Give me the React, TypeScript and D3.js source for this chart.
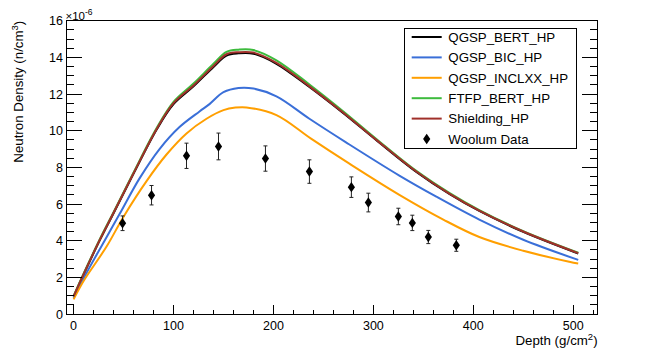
import React from "react";
import * as d3 from "d3";

// ---- data ----
const topDepth = [0, 10, 26, 40, 59, 83, 100, 120, 140, 153, 165, 180, 203, 236, 270, 303, 343, 376, 406, 450, 505];
const qgspBert = [0.95, 2.15, 4.0, 5.5, 7.55, 10.05, 11.45, 12.42, 13.48, 14.1, 14.22, 14.2, 13.65, 12.38, 10.95, 9.48, 7.75, 6.55, 5.62, 4.48, 3.3];
const shielding = [0.96, 2.17, 4.02, 5.52, 7.57, 10.08, 11.5, 12.47, 13.53, 14.17, 14.28, 14.26, 13.7, 12.42, 10.98, 9.5, 7.77, 6.57, 5.64, 4.5, 3.32];
const ftfpBert = [0.98, 2.2, 4.05, 5.56, 7.61, 10.13, 11.57, 12.57, 13.65, 14.3, 14.42, 14.4, 13.84, 12.52, 11.05, 9.55, 7.81, 6.61, 5.67, 4.52, 3.34];

const bicDepth = [0, 10, 31, 46, 66, 86, 106, 126, 136, 150, 165, 180, 203, 236, 273, 326, 363, 406, 450, 505];
const qgspBic = [0.88, 1.95, 4.0, 5.45, 7.4, 9.0, 10.2, 11.05, 11.45, 12.1, 12.33, 12.3, 11.87, 10.65, 9.35, 7.55, 6.4, 5.15, 4.05, 2.95];

const inclDepth = [0, 10, 33, 50, 73, 93, 113, 133, 150, 162, 173, 203, 238, 276, 326, 370, 406, 450, 496, 505];
const qgspInclxx = [0.8, 1.8, 3.68, 5.31, 7.25, 8.7, 9.85, 10.65, 11.12, 11.26, 11.27, 10.85, 9.55, 8.2, 6.5, 5.15, 4.2, 3.45, 2.85, 2.75];

const woolumDepth = [49, 78, 113, 145, 192, 236, 278, 295, 325, 339, 355, 383];
const woolumValue = [4.95, 6.48, 8.63, 9.14, 8.48, 7.77, 6.92, 6.08, 5.32, 4.97, 4.2, 3.75];
const woolumError = [0.4, 0.53, 0.69, 0.73, 0.69, 0.64, 0.56, 0.51, 0.45, 0.42, 0.36, 0.33];

const xMajorTicks = [0, 100, 200, 300, 400, 500];
const yMajorTicks = [0, 2, 4, 6, 8, 10, 12, 14, 16];

const seriesNames = ["QGSP_BERT_HP", "QGSP_BIC_HP", "QGSP_INCLXX_HP", "FTFP_BERT_HP", "Shielding_HP"];
const seriesColors = ["#000000", "#3a6fd8", "#ff9f00", "#3dbb3d", "#a0302a"];

const FONT = "'Liberation Sans', Arial, Helvetica, sans-serif";

export default function App() {
  const W = 664, H = 350;
  const L = 66.4, R = 597.6, T = 20.7, B = 314;
  const x = d3.scaleLinear().domain([-7.2, 524.4]).range([L, R]);
  const y = d3.scaleLinear().domain([0, 16]).range([B, T]);

  const mk = (xs: number[], ys: number[]) =>
    d3.line<number>().x((_, i) => x(xs[i])).y((v) => y(v)).curve(d3.curveCatmullRom.alpha(0.5))(ys) || "";

  const curves = [
    { d: mk(topDepth, qgspBert), c: seriesColors[0] },
    { d: mk(bicDepth, qgspBic), c: seriesColors[1] },
    { d: mk(inclDepth, qgspInclxx), c: seriesColors[2] },
    { d: mk(topDepth, ftfpBert), c: seriesColors[3] },
    { d: mk(topDepth, shielding), c: seriesColors[4] },
  ];

  const xMinor = d3.range(0, 521, 20).filter((v) => !xMajorTicks.includes(v));
  const yMinor = d3.range(0, 16.01, 0.5).filter((v) => !yMajorTicks.includes(v));

  const diamond = (cx: number, cy: number) =>
    `M${cx},${cy - 5.2}L${cx + 3.6},${cy}L${cx},${cy + 5.2}L${cx - 3.6},${cy}Z`;

  const legX = 404.5, legY = 28.5, legW = 172, legH = 119.5;
  const rowY = (i: number) => 37 + i * 20.4;

  return (
    <svg width={W} height={H} style={{ position: "absolute", left: 0, top: 0, background: "#fff" }} fontFamily={FONT}>
      <rect x={0} y={0} width={W} height={H} fill="#fff" />
      {/* curves */}
      <g fill="none" strokeWidth={2}>
        {curves.map((c, i) => (
          <path key={i} d={c.d} stroke={c.c} />
        ))}
      </g>
      {/* data points */}
      <g>
        {woolumDepth.map((dv, i) => {
          const cx = x(dv);
          const y0 = y(woolumValue[i] - woolumError[i]);
          const y1 = y(woolumValue[i] + woolumError[i]);
          return (
            <g key={i}>
              <line x1={cx} x2={cx} y1={y0} y2={y1} stroke="#222" strokeWidth={1} />
              <line x1={cx - 2} x2={cx + 2} y1={y0} y2={y0} stroke="#222" strokeWidth={1} />
              <line x1={cx - 2} x2={cx + 2} y1={y1} y2={y1} stroke="#222" strokeWidth={1} />
              <path d={diamond(cx, y(woolumValue[i]))} fill="#000" />
            </g>
          );
        })}
      </g>
      {/* frame */}
      <g shapeRendering="crispEdges" stroke="#000" strokeWidth={1} fill="none">
        <line x1={L} x2={R} y1={T} y2={T} />
        <line x1={L} x2={R} y1={B} y2={B} />
        <line x1={L} x2={L} y1={T} y2={B} />
        <line x1={R} x2={R} y1={T} y2={B} />
        {xMajorTicks.map((v) => (
          <line key={"xM" + v} x1={x(v)} x2={x(v)} y1={B} y2={B - 8.8} />
        ))}
        {xMinor.map((v) => (
          <line key={"xm" + v} x1={x(v)} x2={x(v)} y1={B} y2={B - 4.4} />
        ))}
        {yMajorTicks.map((v) => (
          <g key={"yM" + v}>
            <line x1={L} x2={L + 16} y1={y(v)} y2={y(v)} />
            <line x1={R} x2={R - 16} y1={y(v)} y2={y(v)} />
          </g>
        ))}
        {yMinor.map((v) => (
          <g key={"ym" + v}>
            <line x1={L} x2={L + 8} y1={y(v)} y2={y(v)} />
            <line x1={R} x2={R - 8} y1={y(v)} y2={y(v)} />
          </g>
        ))}
      </g>
      {/* tick labels */}
      <g fontSize={12.5} fill="#000">
        {xMajorTicks.map((v) => (
          <text key={"xl" + v} x={x(v)} y={330} textAnchor="middle">{v}</text>
        ))}
        {yMajorTicks.map((v) => (
          <text key={"yl" + v} x={63} y={y(v) + 4.5} textAnchor="end">{v}</text>
        ))}
      </g>
      <text x={65.5} y={19.5} fontSize={11.5}>
        ×10<tspan dy={-4.5} fontSize={8.5}>-6</tspan>
      </text>
      {/* axis titles */}
      <text x={R} y={345} fontSize={13.3} textAnchor="end">
        Depth (g/cm<tspan dy={-5} fontSize={9.5}>2</tspan><tspan dy={5}>)</tspan>
      </text>
      <text transform={`translate(22.5,${T}) rotate(-90)`} fontSize={13.3} textAnchor="end">
        Neutron Density (n/cm<tspan dy={-5} fontSize={9.5}>3</tspan><tspan dy={5}>)</tspan>
      </text>
      {/* legend */}
      <rect x={legX} y={legY} width={legW} height={legH} fill="#fff" stroke="#000" strokeWidth={1} shapeRendering="crispEdges" />
      {seriesNames.map((n, i) => (
        <g key={n}>
          <line x1={411.7} x2={441.7} y1={rowY(i)} y2={rowY(i)} stroke={seriesColors[i]} strokeWidth={2} />
          <text x={448.3} y={rowY(i) + 4.8} fontSize={13.3}>{n}</text>
        </g>
      ))}
      <path d={diamond(426.7, rowY(5))} fill="#000" />
      <text x={448.3} y={rowY(5) + 4.8} fontSize={13.3}>Woolum Data</text>
    </svg>
  );
}
